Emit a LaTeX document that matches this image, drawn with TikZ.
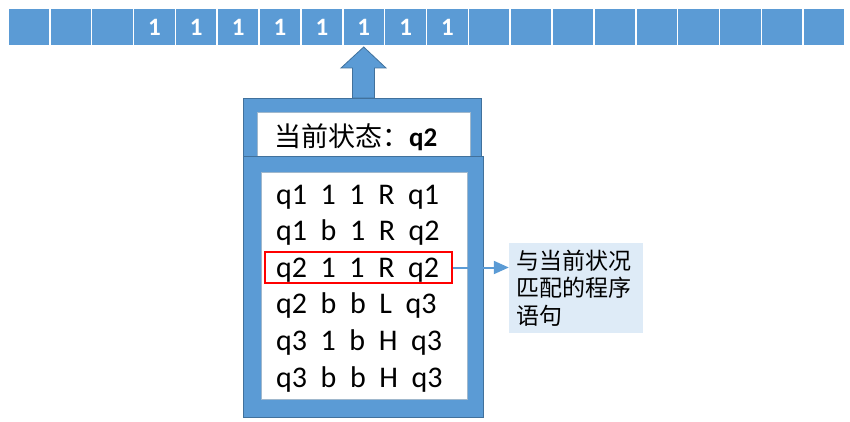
\documentclass[tikz,border=0pt]{standalone}
\usepackage{fontspec}
\setmainfont{Carlito}
\newfontfamily\cjk{Noto Sans CJK SC}
\usetikzlibrary{arrows.meta}
\definecolor{tapeblue}{HTML}{5B9BD5}
\definecolor{edgeblue}{HTML}{41719C}
\definecolor{noteblue}{HTML}{DEEBF7}
\tikzset{
    cell/.style={rectangle, fill=tapeblue, draw=white, line width=1.5pt, minimum width=41.85pt, minimum height=37.5pt, inner sep=0pt, text=white, font=\fontsize{25}{30}\selectfont\bfseries},
    frame/.style={fill=tapeblue, draw=edgeblue, line width=0.8pt, inner sep=0pt},
    slot/.style={fill=white, draw=edgeblue!50, line width=0.5pt, inner sep=0pt},
    rule/.style={anchor=base west, inner sep=0pt, font=\fontsize{30}{36}\selectfont},
}

\begin{document}
\begin{tikzpicture}[x=1pt, y=-1pt]
    \useasboundingbox (0,0) rectangle (850,422);
    	% Tape cells:
    	\node[cell] (c1) at (28.9, 27){};
    	\node[cell] (c2) at (70.8, 27){};
    	\node[cell] (c3) at (112.6, 27){};
    	\node[cell] (c4) at (154.5, 27){1};
    	\node[cell] (c5) at (196.3, 27){1};
    	\node[cell] (c6) at (238.2, 27){1};
    	\node[cell] (c7) at (280.0, 27){1};
    	\node[cell] (c8) at (321.9, 27){1};
    	\node[cell] (c9) at (363.7, 27){1};
    	\node[cell] (c10) at (405.6, 27){1};
    	\node[cell] (c11) at (447.4, 27){1};
    	\node[cell] (c12) at (489.3, 27){};
    	\node[cell] (c13) at (531.1, 27){};
    	\node[cell] (c14) at (573.0, 27){};
    	\node[cell] (c15) at (614.8, 27){};
    	\node[cell] (c16) at (656.7, 27){};
    	\node[cell] (c17) at (698.5, 27){};
    	\node[cell] (c18) at (740.4, 27){};
    	\node[cell] (c19) at (782.2, 27){};
    	\node[cell] (c20) at (824.1, 27){};
    	% Head arrow and control box:
    	\draw[frame] (341, 68) -- (363.7, 47) -- (386, 68) -- (374.5, 68) -- (374.5, 98) -- (352.5, 98) -- (352.5, 68) -- cycle;
    	\node[frame, minimum width=238pt, minimum height=72pt] (upper) at (362, 134){};
    	\node[slot, minimum width=213pt, minimum height=44pt] (stateslot) at (363.5, 134){};
    	\node[anchor=base west, inner sep=0pt, font=\fontsize{27}{32}\selectfont] (state) at (274, 147){{\cjk 当前状态：}\textbf{q2}};
    	\node[frame, minimum width=240pt, minimum height=261pt] (lower) at (363, 286.5){};
    	\node[slot, minimum width=206pt, minimum height=227pt] (rules) at (364, 285.5){};
    	% Program rules:
    	\node[rule] (r1) at (276, 204){q1\ \ 1\ \ 1\ \ R\ \ q1};
    	\node[rule] (r2) at (276, 240.6){q1\ \ b\ \ 1\ \ R\ \ q2};
    	\node[rule] (r3) at (276, 277.2){q2\ \ 1\ \ 1\ \ R\ \ q2};
    	\node[rule] (r4) at (276, 313.8){q2\ \ b\ \ b\ \ L\ \ q3};
    	\node[rule] (r5) at (276, 350.4){q3\ \ 1\ \ b\ \ H\ \ q3};
    	\node[rule] (r6) at (276, 387){q3\ \ b\ \ b\ \ H\ \ q3};
    	% Match and note:
    	\node[draw=red, line width=2pt, minimum width=187pt, minimum height=31pt, inner sep=0pt] (hit) at (358.5, 267.5){};
    	\node[fill=noteblue, text width=120pt, minimum height=90pt, align=left, inner xsep=7pt, inner ysep=6pt, font=\cjk\fontsize{23}{27.5}\selectfont] (note) at (576, 288){与当前状况\\匹配的程序\\语句};
    	\draw[-{Triangle[length=15pt, width=13pt]}, tapeblue, line width=2pt] (hit.east) -- (hit.east -| note.west);
    \end{tikzpicture}
\end{document}
